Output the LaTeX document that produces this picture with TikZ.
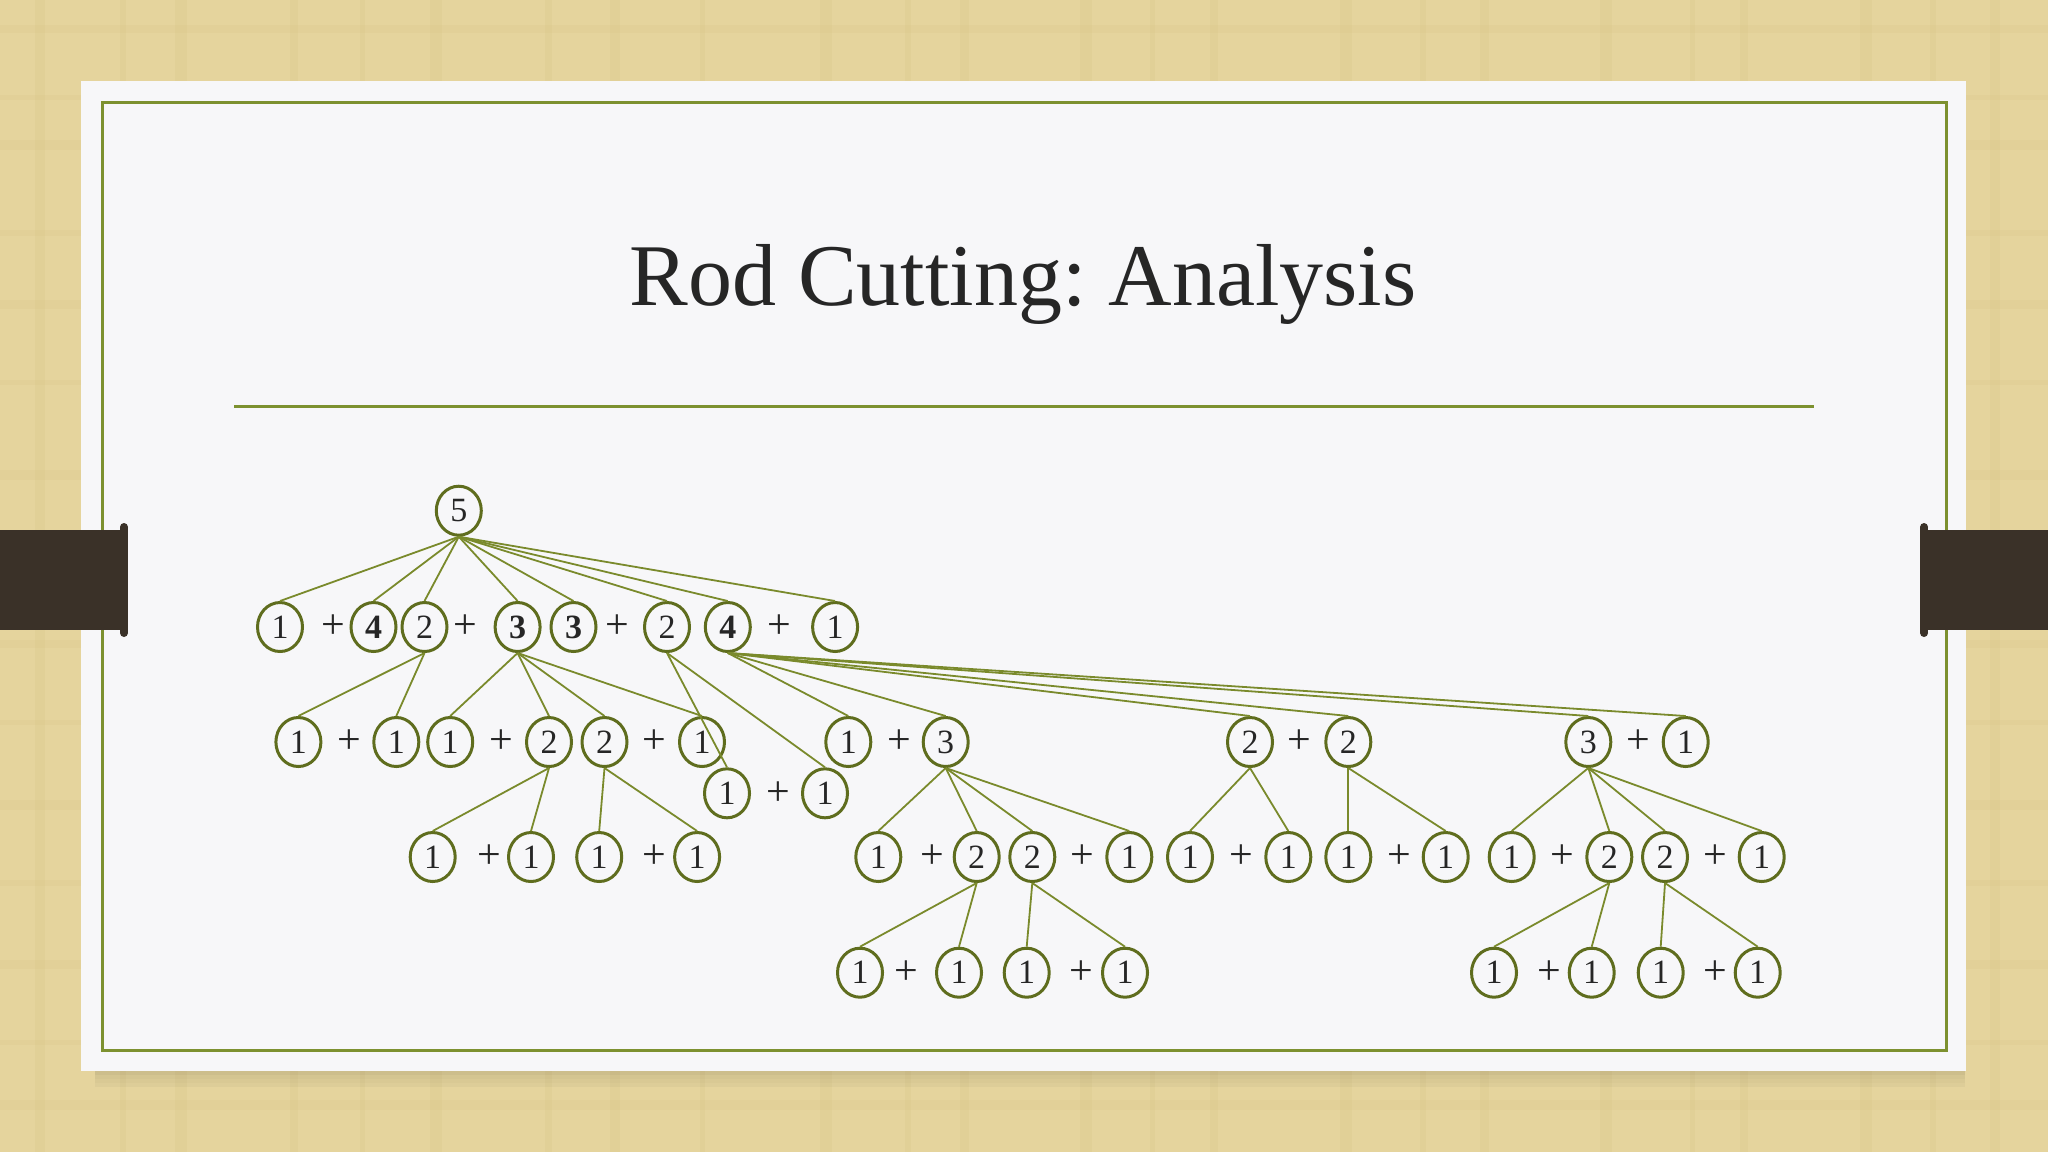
\documentclass[tikz,border=0pt]{standalone}
\usepackage{fontspec}
\setmainfont{Liberation Serif}
\frenchspacing
\usetikzlibrary{shapes.geometric}
\definecolor{bgtan}{HTML}{E5D49D}
\definecolor{bgline}{HTML}{D3BE7E}
\definecolor{slidec}{HTML}{F7F7F9}
\definecolor{framec}{HTML}{7D9130}
\definecolor{circc}{HTML}{5F6D1E}
\definecolor{edgec}{HTML}{7A8A2C}
\definecolor{tabc}{HTML}{3A3128}
\begin{document}
\begin{tikzpicture}[x=0.5pt,y=-0.5pt,
  nd/.style={ellipse, draw=circc, line width=1.5pt, minimum width=22.5pt, minimum height=24.5pt, inner sep=0pt, font=\fontsize{17}{17}\selectfont, text=black!85},
  bnd/.style={nd, font=\fontsize{17}{17}\selectfont\bfseries},
  pl/.style={font=\fontsize{21}{21}\selectfont, text=black!85, inner sep=0pt},
  ed/.style={draw=edgec, line width=0.9pt}]
\useasboundingbox (0,0) rectangle (2048,1152);
% background
\fill[bgtan] (0,0) rectangle (2048,1152);
\foreach \xx/\w in {35/10,120/6,175/12,290/8,360/5,430/12,545/7,610/10,700/5,820/12,905/6,960/9,1080/12,1150/5,1210/8,1340/12,1420/6,1480/9,1600/12,1690/5,1740/8,1860/12,1930/6,1990/10}
  \fill[bgline, opacity=0.18] (\xx,0) rectangle ++(\w,1152);
\foreach \yy/\w in {25/8,95/5,140/10,230/6,300/9,380/5,470/10,560/6,640/8,720/5,800/10,880/6,960/9,1040/5,1100/10}
  \fill[bgline, opacity=0.14] (0,\yy) rectangle ++(2048,\w);
% slide shadow
\foreach \k/\o in {0/0.10,4/0.07,8/0.05,12/0.03}
  \fill[black, opacity=\o] (95,1071+\k) rectangle (1965,1075+\k);
% slide
\fill[slidec] (81,81) rectangle (1966,1071);
\draw[framec, line width=1.5pt] (102.5,102.5) rectangle (1946,1050);
% tabs
\fill[tabc] (0,530) rectangle (128,630);
\fill[tabc] (120,527) rectangle (128,633);
\fill[tabc] (124,527) circle (4);
\fill[tabc] (124,633) circle (4);
\fill[tabc] (1920,530) rectangle (2048,630);
\fill[tabc] (1920,527) rectangle (1928,633);
\fill[tabc] (1924,527) circle (4);
\fill[tabc] (1924,633) circle (4);
% title
\node[anchor=base, font=\fontsize{44}{44}\selectfont, text=black!85, inner sep=0pt] (title) at (1023,305) {Rod Cutting: Analysis};
\draw[framec, line width=1.5pt] (234,406) -- (1814,406);

% tree nodes
\node[nd] (r) at (458.8,510.7) {5};
% row 1
\node[nd]  (a1) at (280,627) {1};
\node[pl]  (pa1) at (333,627) {+};
\node[bnd] (a2) at (373.5,627) {4};
\node[nd]  (a3) at (424.5,627) {2};
\node[pl]  (pa2) at (465.7,627) {+};
\node[bnd] (a4) at (517.6,627) {3};
\node[bnd] (a5) at (573.5,627) {3};
\node[pl]  (pa3) at (617.6,627) {+};
\node[nd]  (a6) at (667,627) {2};
\node[bnd] (a7) at (727.8,627) {4};
\node[pl]  (pa4) at (779.6,627) {+};
\node[nd]  (a8) at (835.1,627) {1};
% row 2
\node[nd] (b1) at (298.4,742) {1};
\node[pl] (pb1) at (349.4,742) {+};
\node[nd] (b2) at (396.3,742) {1};
\node[nd] (b3) at (450.2,742) {1};
\node[pl] (pb2) at (501.2,742) {+};
\node[nd] (b4) at (549,742) {2};
\node[nd] (b5) at (604.5,742) {2};
\node[pl] (pb3) at (654.3,742) {+};
\node[nd] (b6) at (702,742) {1};
\node[nd] (b7) at (848.3,742) {1};
\node[pl] (pb4) at (899,742) {+};
\node[nd] (b8) at (945.7,742) {3};
\node[nd] (b9) at (1250,742) {2};
\node[pl] (pb5) at (1299,742) {+};
\node[nd] (b10) at (1348.3,742) {2};
\node[nd] (b11) at (1588.3,742) {3};
\node[pl] (pb6) at (1638.3,742) {+};
\node[nd] (b12) at (1685.7,742) {1};
% row 2.5
\node[nd] (c1) at (727,793.3) {1};
\node[pl] (pc1) at (778.8,793.3) {+};
\node[nd] (c2) at (825,793.3) {1};
% row 3
\node[nd] (d1) at (432.7,857) {1};
\node[pl] (pd1) at (489,857) {+};
\node[nd] (d2) at (531,857) {1};
\node[nd] (d3) at (599.2,857) {1};
\node[pl] (pd2) at (654.3,857) {+};
\node[nd] (d4) at (697.1,857) {1};
\node[nd] (d5) at (878.3,857) {1};
\node[pl] (pd3) at (932.3,857) {+};
\node[nd] (d6) at (976.7,857) {2};
\node[nd] (d7) at (1032.3,857) {2};
\node[pl] (pd4) at (1082.7,857) {+};
\node[nd] (d8) at (1129.3,857) {1};
\node[nd] (d9) at (1190,857) {1};
\node[pl] (pd5) at (1241,857) {+};
\node[nd] (d10) at (1288.3,857) {1};
\node[nd] (d11) at (1348.3,857) {1};
\node[pl] (pd6) at (1399,857) {+};
\node[nd] (d12) at (1445.7,857) {1};
\node[nd] (d13) at (1511.7,857) {1};
\node[pl] (pd7) at (1562.7,857) {+};
\node[nd] (d14) at (1609.3,857) {2};
\node[nd] (d15) at (1665,857) {2};
\node[pl] (pd8) at (1715,857) {+};
\node[nd] (d16) at (1761.7,857) {1};
% row 4
\node[nd] (e1) at (860,972.7) {1};
\node[pl] (pe1) at (906.7,972.7) {+};
\node[nd] (e2) at (959,972.7) {1};
\node[nd] (e3) at (1026.7,972.7) {1};
\node[pl] (pe2) at (1081.7,972.7) {+};
\node[nd] (e4) at (1125,972.7) {1};
\node[nd] (e5) at (1494,972.7) {1};
\node[pl] (pe3) at (1549,972.7) {+};
\node[nd] (e6) at (1591.7,972.7) {1};
\node[nd] (e7) at (1660.7,972.7) {1};
\node[pl] (pe4) at (1715,972.7) {+};
\node[nd] (e8) at (1757.7,972.7) {1};

% edges
\foreach \p/\c in {r/a1,r/a2,r/a3,r/a4,r/a5,r/a6,r/a7,r/a8,
  a3/b1,a3/b2,a4/b3,a4/b4,a4/b5,a4/b6,a6/c1,a6/c2,
  a7/b7,a7/b8,a7/b9,a7/b10,a7/b11,a7/b12,
  b4/d1,b4/d2,b5/d3,b5/d4,b8/d5,b8/d6,b8/d7,b8/d8,
  b9/d9,b9/d10,b10/d11,b10/d12,b11/d13,b11/d14,b11/d15,b11/d16,
  d6/e1,d6/e2,d7/e3,d7/e4,d14/e5,d14/e6,d15/e7,d15/e8}
  \draw[ed] (\p.south) -- (\c.north);
\end{tikzpicture}
\end{document}
